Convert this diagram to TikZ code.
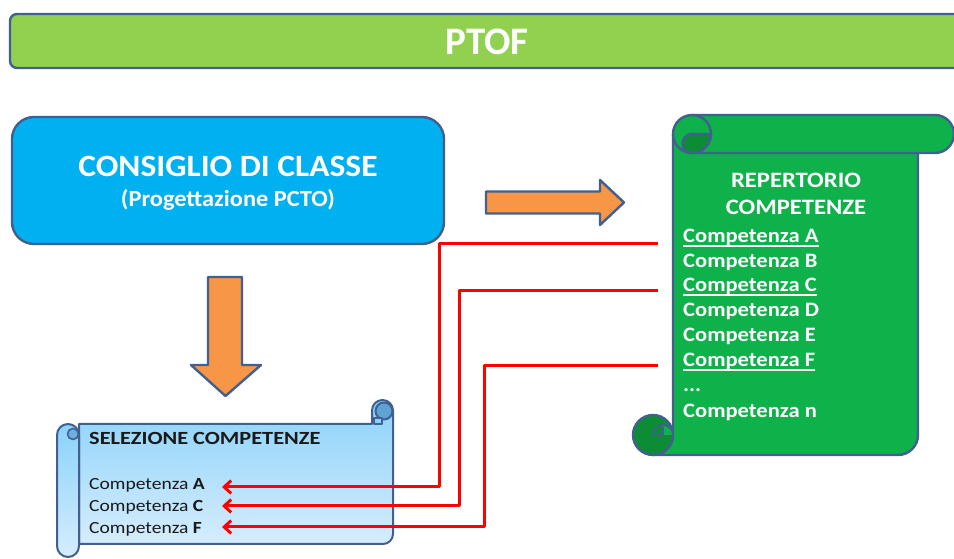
\documentclass[tikz,border=0pt]{standalone}
\usepackage{fontspec}
\setmainfont{Carlito}
\usepackage{graphicx}
\usetikzlibrary{arrows.meta}
\definecolor{bord}{HTML}{41608F}
\definecolor{bannergreen}{HTML}{92D050}
\definecolor{cyanbox}{HTML}{00B0F0}
\definecolor{orangearrow}{HTML}{F79646}
\definecolor{sgreen}{HTML}{0EB14A}
\definecolor{dgreen}{HTML}{0B8C35}
\definecolor{lbtop}{HTML}{8AD2FA}
\definecolor{lbbot}{HTML}{D6EDFD}
\definecolor{mblue}{HTML}{5FA2D4}
\definecolor{redline}{HTML}{FF0000}
\newcommand{\hsc}[2]{\scalebox{#1}[1]{#2}}
\newcommand{\fsz}[1]{\fontsize{#1}{#1}\selectfont}
\begin{document}
\begin{tikzpicture}[x=1pt,y=1pt,line join=round,
  outl/.style={draw=bord,line width=2.4},
  txt/.style={inner sep=0,anchor=base},
  wtxt/.style={txt,text=white,font=\bfseries},
  glist/.style={inner sep=0,anchor=base west,text=white,font=\fsz{20.5}\bfseries},
  blist/.style={inner sep=0,anchor=base west,text=black!90,font=\fsz{17}},
  uline/.style={white,line width=1.8},
  redln/.style={redline,line width=3,-{Straight Barb[length=7,width=13]}},
  orangearr/.style={outl,fill=orangearrow}]
\clip (0,0) rectangle (954,559);

% Banner
\draw[outl,fill=bannergreen,rounded corners=7] (10,491) rectangle (975,545);
\node[wtxt,font=\fsz{39}\bfseries] (ptof) at (487,504) {PTOF};

% Consiglio di classe
\node[outl,fill=cyanbox,rounded corners=22,minimum width=432,minimum height=127,inner sep=0] (cdc) at (228,378.5) {};
\node[wtxt,font=\fsz{31}\bfseries] (cdct) at (228,382) {\hsc{1.08}{CONSIGLIO DI CLASSE}};
\node[wtxt,font=\fsz{23}\bfseries] (cdcs) at (228,352) {\hsc{1.06}{(Progettazione PCTO)}};

% Orange arrows
\draw[orangearr] (486,345.5) -- (600,345.5) -- (600,334) -- (624,356.5) -- (600,379) -- (600,367.5) -- (486,367.5) -- cycle;
\draw[orangearr] (208,282) -- (208,194) -- (191,194) -- (225.5,163) -- (261,194) -- (242,194) -- (242,282) -- cycle;

% Green scroll (repertorio)
\draw[outl,fill=sgreen] (673,425) -- (673,124) arc[start angle=0,end angle=-90,radius=20] -- (898,104) arc[start angle=-90,end angle=0,radius=20] -- (918,425) -- cycle;
\draw[outl,fill=dgreen] (653,124) circle (20);
\fill[sgreen] (663,124) -- (673,124) arc[start angle=0,end angle=90,radius=10] -- cycle;
\draw[outl,line width=1.8] (663,124) -- (653,124) arc[start angle=180,end angle=0,radius=10];
\draw[outl,line width=1.8] (663,124) -- (663,132);
\draw[outl,fill=sgreen] (692,444) -- (935,444) arc[start angle=90,end angle=-90,radius=19] -- (692,406) arc[start angle=270,end angle=90,radius=19] -- cycle;
\draw[outl,fill=dgreen] (692,425) -- (711,425) arc[start angle=0,end angle=-90,radius=19] arc[start angle=270,end angle=90,radius=9.5] -- cycle;
\draw[outl] (692,444) arc[start angle=90,end angle=-90,radius=19];

\node[wtxt,font=\fsz{22}\bfseries] (rep1) at (796,371) {\hsc{1.12}{REPERTORIO}};
\node[wtxt,font=\fsz{22}\bfseries] (rep2) at (796,344) {\hsc{1.12}{COMPETENZE}};
\node[glist] (gA) at (683,316) {\hsc{1.1}{Competenza A}};
\node[glist] (gB) at (683,291) {\hsc{1.1}{Competenza B}};
\node[glist] (gC) at (683,267) {\hsc{1.1}{Competenza C}};
\node[glist] (gD) at (683,242) {\hsc{1.1}{Competenza D}};
\node[glist] (gE) at (683,217) {\hsc{1.1}{Competenza E}};
\node[glist] (gF) at (683,192) {\hsc{1.1}{Competenza F}};
\node[glist] (gdots) at (683,167) {\hsc{1.1}{...}};
\node[glist] (gn) at (683,141) {\hsc{1.1}{Competenza n}};
\draw[uline] ([yshift=-3]gA.base west) -- ([yshift=-3]gA.base east);
\draw[uline] ([yshift=-3]gC.base west) -- ([yshift=-3]gC.base east);
\draw[uline] ([yshift=-3]gF.base west) -- ([yshift=-3]gF.base east);

% Blue scroll (selezione)
\draw[outl,line width=2,top color=lbtop,bottom color=lbbot] (79,135) -- (372,135) -- (372,148.5) arc[start angle=180,end angle=0,radius=10.5] -- (393,25) arc[start angle=0,end angle=-90,radius=10] -- (79,15) -- cycle;
\draw[outl,line width=2,fill=mblue] (384,148) circle (8.5);
\draw[outl,line width=1.6,fill=lbtop] (374,135) rectangle (382,141);
\draw[outl,line width=2,top color=lbtop,bottom color=lbbot] (57,124) arc[start angle=180,end angle=0,radius=11] -- (79,13) arc[start angle=0,end angle=-180,radius=11] -- cycle;
\draw[outl,line width=1.6,fill=mblue!70!lbtop] (73,125) circle (5.5);

\node[txt,anchor=base west,text=black!90,font=\fsz{18.6}\bfseries] (sel) at (89,114) {\hsc{1.2}{SELEZIONE COMPETENZE}};
\node[blist] (bA) at (89,69) {\hsc{1.15}{Competenza \textbf{A}}};
\node[blist] (bC) at (89,47) {\hsc{1.15}{Competenza \textbf{C}}};
\node[blist] (bF) at (89,25) {\hsc{1.15}{Competenza \textbf{F}}};

% Red connectors
\coordinate (sA) at (658,315);
\coordinate (sC) at (658,268);
\coordinate (sF) at (658,193);
\coordinate (tA) at (222,72);
\coordinate (tC) at (222,53);
\coordinate (tF) at (222,32);
\draw[redln] (sA) -- ++(-219,0) |- (tA);
\draw[redln] (sC) -- ++(-199,0) |- (tC);
\draw[redln] (sF) -- ++(-174,0) |- (tF);
\end{tikzpicture}
\end{document}
